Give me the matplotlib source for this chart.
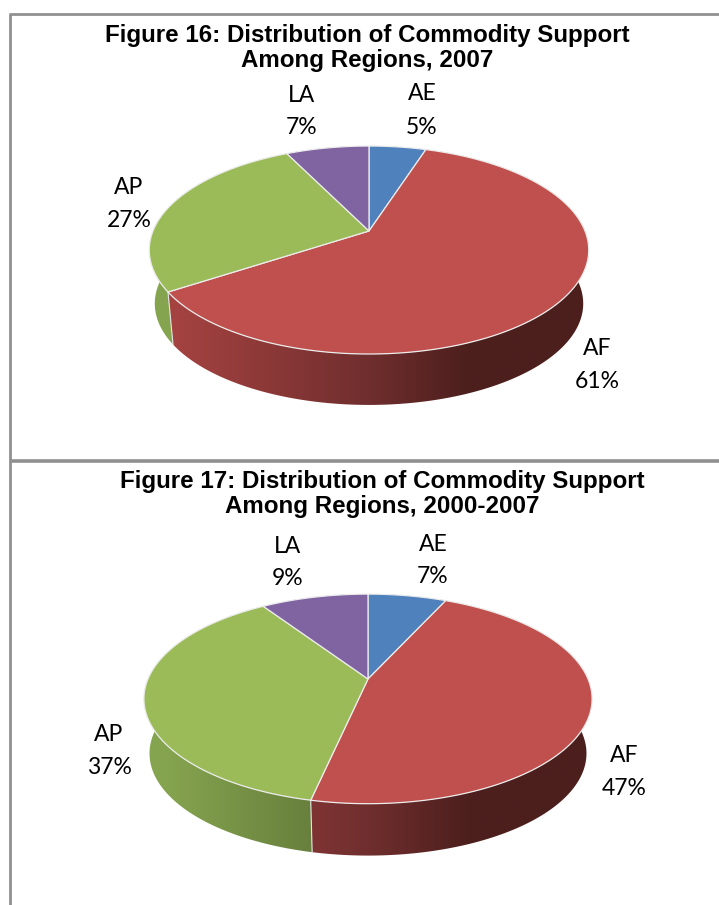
import numpy as np
import matplotlib
matplotlib.use("Agg")
import matplotlib.pyplot as plt
from matplotlib.colors import to_rgb
from matplotlib.patches import Polygon

# data
regions = ["AE", "AF", "AP", "LA"]
values_2007 = [5.0, 60.8, 26.9, 7.3]
values_2000_2007 = [6.8, 46.6, 37.3, 9.3]
title_2007 = "Figure 16: Distribution of Commodity Support\nAmong Regions, 2007"
title_2000_2007 = "Figure 17: Distribution of Commodity Support\nAmong Regions, 2000-2007"

top_colors = ["#4f81bd", "#c0504d", "#9bbb59", "#8064a2"]
# wall colour: left side of the pie, centre, darkest part
wall_colors = {
    "AE": ["#4f81bd", "#3f6795", "#2c4766"],
    "AF": ["#a54341", "#702e2e", "#4c1f1d"],
    "AP": ["#85a44f", "#5c7236", "#4f612c"],
    "LA": ["#8064a2", "#655080", "#463758"],
}


def project(frac, b, a, k):
    # circle in perspective, so the apex is not in the middle of the ellipse
    ang = 2 * np.pi * np.asarray(frac)
    u = np.sin(ang)
    v = np.cos(ang)
    w = 1 + k * v
    return b * u / w, -a * v / w


def wall_gradient(name, rx, n=200):
    c = [np.array(to_rgb(h)) for h in wall_colors[name]]
    t = np.linspace(-1.05, 1.05, n)
    s_left = np.clip(-t / 0.9, 0, 1)[:, None]
    s_right = np.clip(t / 0.45, 0, 1)[:, None]
    row = c[1] + (c[0] - c[1]) * s_left + (c[2] - c[1]) * s_right
    return row[None, :, :]


def draw_pie(ax, values, cx, cy, b, a, k, drop, label_pos):
    fracs = np.cumsum([0] + list(values)) / np.sum(values)
    rx = b / np.sqrt(1 - k * k)
    # side wall first, a gradient clipped to the band under the rim
    for i, name in enumerate(regions):
        f = np.linspace(fracs[i], fracs[i + 1], 200)
        x, y = project(f, b, a, k)
        upper = list(zip(cx + x, cy + y))
        lower = list(zip(cx + x * 0.975, cy + y * 0.975 + drop))
        band = Polygon(upper + lower[::-1], closed=True, transform=ax.transData, facecolor="none", edgecolor="none")
        ax.add_patch(band)
        img = ax.imshow(wall_gradient(name, rx), extent=(cx - 1.05 * rx, cx + 1.05 * rx, cy + a * 2 + drop, cy - a * 2),
                        aspect="auto", interpolation="bilinear", zorder=2)
        img.set_clip_path(band)
        # seam between slices on the wall
        ax.plot([cx + x[0], cx + x[0] * 0.975], [cy + y[0], cy + y[0] * 0.975 + drop],
                color="#e4e4e4", lw=0.8, zorder=3)
    # top surface
    for i, name in enumerate(regions):
        f = np.linspace(fracs[i], fracs[i + 1], 200)
        x, y = project(f, b, a, k)
        pts = [(cx, cy)] + list(zip(cx + x, cy + y))
        ax.add_patch(Polygon(pts, closed=True, facecolor=top_colors[i], edgecolor="#ececec", lw=0.9, zorder=4))
    # labels
    for i, name in enumerate(regions):
        lx, ly1, ly2 = label_pos[name]
        ax.text(lx, ly1, name, ha="center", va="center", family="Lato", fontsize=16.5, color="black")
        ax.text(lx, ly2, f"{values[i]:.0f}%", ha="center", va="center", family="Lato", fontsize=16.5, color="black")


fig = plt.figure(figsize=(7.19, 9.05), dpi=100)
ax = fig.add_axes([0, 0, 1, 1])

# table borders of the page
ax.plot([10, 10], [14, 905], color="#909090", lw=2, solid_capstyle="butt")
ax.plot([9, 719], [14, 14], color="#909090", lw=2, solid_capstyle="butt")
ax.plot([10, 719], [460.5, 460.5], color="#909090", lw=2.6, solid_capstyle="butt")

ax.text(367, 48, title_2007, ha="center", va="center", family="Liberation Sans", weight="bold",
        fontsize=17.4, linespacing=1.08, color="black")
ax.text(382, 494, title_2000_2007, ha="center", va="center", family="Liberation Sans", weight="bold",
        fontsize=17.4, linespacing=1.08, color="black")

draw_pie(ax, values_2007, 369, 231, 216, 100.5, 0.183, 54,
         {"AE": (422, 94, 127), "AF": (597, 348, 381), "AP": (129, 187, 220), "LA": (302, 96, 127)})
draw_pie(ax, values_2000_2007, 368, 679, 220, 101, 0.19, 55,
         {"AE": (433, 544, 576), "AF": (624, 755, 788), "AP": (109, 734, 767), "LA": (288, 546, 578)})

ax.set_xlim(0, 719)
ax.set_ylim(905, 0)
ax.axis("off")

fig.savefig("out.png", dpi=100)
